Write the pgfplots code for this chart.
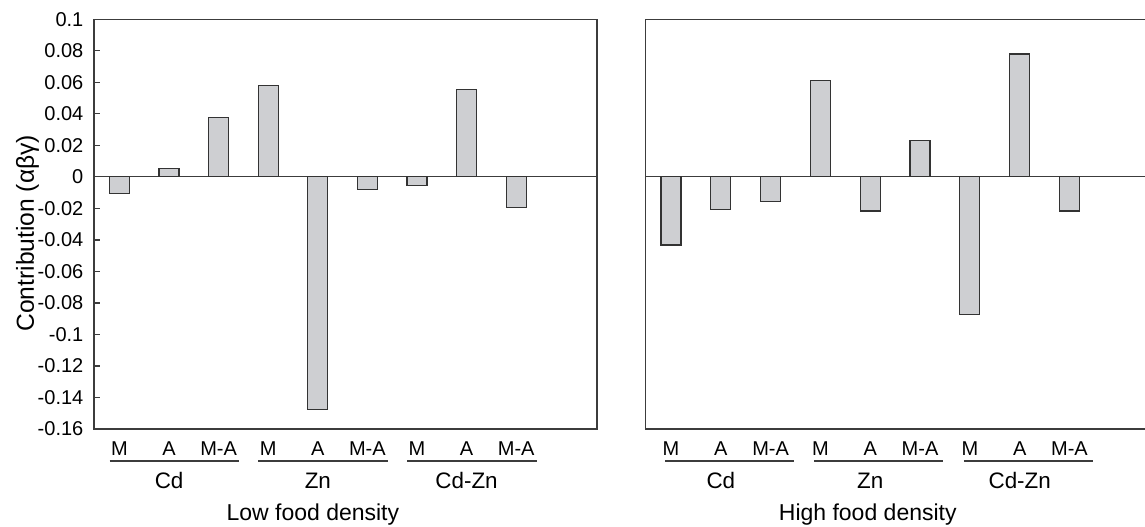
\documentclass[border=0pt]{standalone}
\usepackage{fontspec}
\setmainfont{Liberation Sans}
\usepackage{pgfplots}
\usepackage{pgfplotstable}
\pgfplotsset{compat=1.18}
\definecolor{barfill}{RGB}{206,207,210}
\definecolor{axgray}{RGB}{60,60,60}
\tikzset{grouplines/.style={axgray, line width=0.6pt},
  grp/.style={anchor=base, font=\fontsize{11.2}{13}\selectfont},
  ttl/.style={anchor=base, font=\fontsize{11.5}{13}\selectfont}}

\pgfplotstableread{
x y
0 -0.0105
1 0.0051
2 0.0377
3 0.0580
4 -0.1476
5 -0.0080
6 -0.0053
7 0.0555
8 -0.0193
}\lowdata
\pgfplotstableread{
x y
0 -0.0432
1 -0.0207
2 -0.0157
3 0.0614
4 -0.0216
5 0.0229
6 -0.0872
7 0.0780
8 -0.0216
}\highdata

\pgfplotsset{
  mystyle/.style={
    scale only axis,
    height=204.85pt,
    ymin=-0.16, ymax=0.1,
    ybar, bar width=10pt,
    xtick={0,...,8},
    xticklabels={M,A,M-A,M,A,M-A,M,A,M-A},
    xtick pos=bottom,
    tick align=inside, major tick length=3pt,
    xtick style={draw=none},
    xticklabel style={anchor=base, yshift=-13pt},
    axis line style={axgray, line width=0.6pt},
    clip=false,
    font=\fontsize{10}{12}\selectfont,
    ticklabel style={font=\fontsize{10}{12}\selectfont},
  },
}

\begin{document}
\begin{tikzpicture}
\useasboundingbox (0,0) rectangle (572.5pt,263pt);

% y label
\node[rotate=90, anchor=base west, inner sep=0pt, font=\fontsize{12.3}{14}\selectfont] at (17pt,97pt) {Contribution (αβγ)};

% Low food density
\begin{axis}[mystyle,
  at={(47pt,48.5pt)}, anchor=south west,
  width=251.5pt,
  xmin=-0.514, xmax=9.63,
  ytick={-0.16,-0.14,-0.12,-0.1,-0.08,-0.06,-0.04,-0.02,0,0.02,0.04,0.06,0.08,0.1},
  yticklabels={-0.16,-0.14,-0.12,-0.1,-0.08,-0.06,-0.04,-0.02,0,0.02,0.04,0.06,0.08,0.1},
  ytick pos=left,
  ytick style={axgray, line width=0.6pt},
  yticklabel style={xshift=-1.8pt},
]
\draw[axgray, line width=0.6pt] (axis cs:-0.514,0) -- (axis cs:9.63,0);
\addplot[fill=barfill, draw=black!80, line width=0.6pt] table[x=x,y=y] {\lowdata};
\draw[grouplines] ([yshift=-16pt]axis cs:-0.2,-0.16) -- ([yshift=-16pt]axis cs:2.42,-0.16);
\draw[grouplines] ([yshift=-16pt]axis cs:2.8,-0.16) -- ([yshift=-16pt]axis cs:5.42,-0.16);
\draw[grouplines] ([yshift=-16pt]axis cs:5.8,-0.16) -- ([yshift=-16pt]axis cs:8.42,-0.16);
\node[grp] at ([yshift=-29.5pt]axis cs:1,-0.16) {Cd};
\node[grp] at ([yshift=-29.5pt]axis cs:4,-0.16) {Zn};
\node[grp] at ([yshift=-29.5pt]axis cs:7,-0.16) {Cd-Zn};
\node[ttl] at ([yshift=-45.5pt]axis cs:3.9,-0.16) {Low food density};
\end{axis}

% High food density
\begin{axis}[mystyle,
  at={(322.85pt,48.5pt)}, anchor=south west,
  width=251pt,
  xmin=-0.508, xmax=9.57,
  ytick={-0.16,-0.14,-0.12,-0.1,-0.08,-0.06,-0.04,-0.02,0,0.02,0.04,0.06,0.08,0.1},
  yticklabels={},
  ytick style={draw=none},
]
\draw[axgray, line width=0.6pt] (axis cs:-0.508,0) -- (axis cs:9.57,0);
\addplot[fill=barfill, draw=black!80, line width=0.6pt] table[x=x,y=y] {\highdata};
\draw[grouplines] ([yshift=-16pt]axis cs:-0.12,-0.16) -- ([yshift=-16pt]axis cs:2.47,-0.16);
\draw[grouplines] ([yshift=-16pt]axis cs:2.88,-0.16) -- ([yshift=-16pt]axis cs:5.47,-0.16);
\draw[grouplines] ([yshift=-16pt]axis cs:5.88,-0.16) -- ([yshift=-16pt]axis cs:8.47,-0.16);
\node[grp] at ([yshift=-29.5pt]axis cs:1,-0.16) {Cd};
\node[grp] at ([yshift=-29.5pt]axis cs:4,-0.16) {Zn};
\node[grp] at ([yshift=-29.5pt]axis cs:7,-0.16) {Cd-Zn};
\node[ttl] at ([yshift=-45.5pt]axis cs:3.95,-0.16) {High food density};
\end{axis}
\end{tikzpicture}
\end{document}
